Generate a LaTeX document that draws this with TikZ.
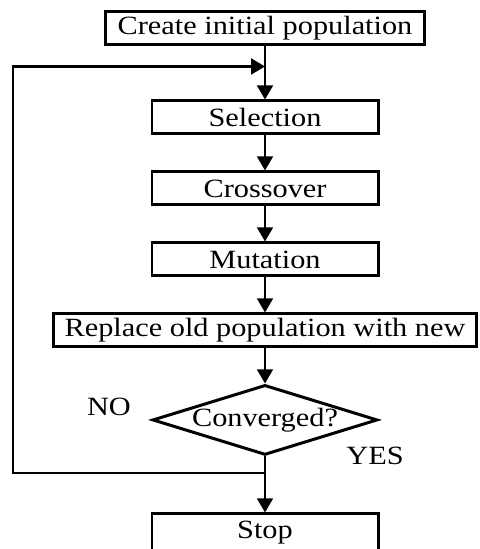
\documentclass[tikz,border=0pt]{standalone}
\usepackage{fontspec}
\setmainfont{Liberation Serif}[FakeStretch=1.15]
\usepackage{tikz}
\usetikzlibrary{shapes.geometric, arrows.meta, positioning}

\begin{document}
\begin{tikzpicture}[
    node distance=0.70cm,
    box/.style={rectangle, draw=black, line width=1.7pt, fill=white,
                minimum width=4.52cm, minimum height=0.66cm, inner sep=0pt,
                text centered, font=\fontsize{15}{18}\selectfont},
    decision/.style={diamond, draw=black, line width=1.7pt, aspect=3.2,
                minimum width=4.5cm, minimum height=1.4cm, inner sep=0pt,
                text centered, font=\fontsize{15}{18}\selectfont},
    lbl/.style={inner sep=0pt, font=\fontsize{15}{18}\selectfont},
    arrow/.style={->, >={Triangle[width=3.2mm, length=2.8mm]}, line width=0.8pt},
    loopline/.style={arrow, line width=1.2pt}
]
\useasboundingbox (0,0) rectangle (9.58,10.98);
\clip (0,0) rectangle (9.58,10.98);

% GA steps
\node[box, minimum width=6.38cm] (init) at (5.3,10.41) {Create initial population};
\node[box, below=1.06cm of init] (sel) {Selection};
\node[box, below=of sel] (cross) {Crossover};
\node[box, below=of cross] (mut) {Mutation};
\node[box, minimum width=8.46cm, below=of mut] (repl) {Replace old population with new};

% Test and end
\node[decision, below=0.70cm of repl] (conv) {Converged?};
\node[box, minimum height=0.76cm, below=1.12cm of conv] (stop) {Stop};

% Branch labels
\node[lbl] (no) at (2.18,2.84) {NO};
\node[lbl] (yes) at (7.5,1.87) {YES};

% Loop points
\coordinate[below=0.40cm of init.south] (merge);
\coordinate[below=0.34cm of conv.south] (split);
\coordinate (loopx) at (0.26,0);

% Connections
\draw[arrow] (init) -- (sel);
\draw[arrow] (sel) -- (cross);
\draw[arrow] (cross) -- (mut);
\draw[arrow] (mut) -- (repl);
\draw[arrow] (repl) -- (conv);
\draw[arrow] (conv) -- (stop);
\draw[loopline] (split) -- (split -| loopx) |- (merge);

\end{tikzpicture}
\end{document}
